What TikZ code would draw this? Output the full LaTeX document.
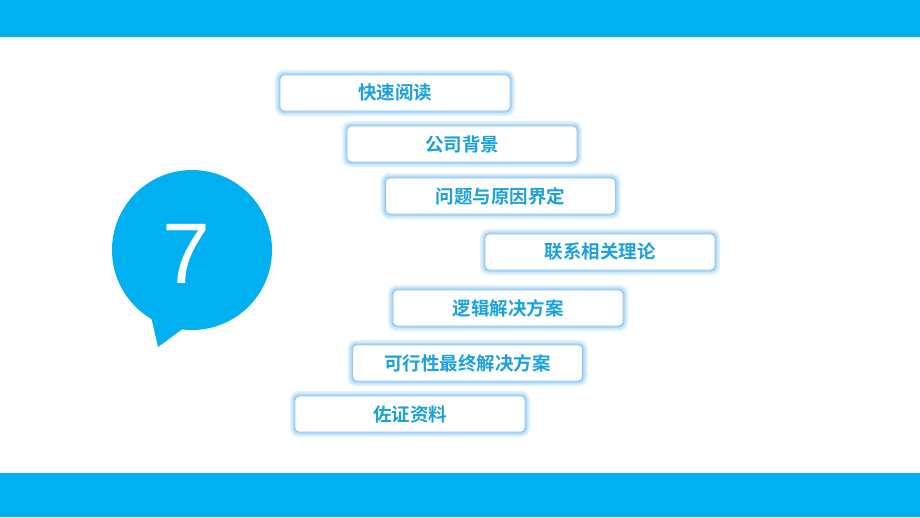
\documentclass[tikz,border=0pt]{standalone}
\usepackage{fontspec}
\newfontfamily\cjk{Noto Sans CJK SC}[BoldFont={Noto Sans CJK SC Bold}]
\newfontfamily\numfont{Liberation Sans}
\definecolor{mainblue}{HTML}{00B0F0}
\definecolor{txtblue}{HTML}{1BA1DC}
\definecolor{edgeblue}{HTML}{8EC5EC}
\definecolor{glowblue}{HTML}{9FD3FA}
\tikzset{
  stepbox/.style={draw=edgeblue, line width=0.9pt, fill=white, rounded corners=4pt,
    minimum width=230pt, minimum height=36pt, inner sep=0pt,
    font=\cjk\bfseries\fontsize{18.5}{20}\selectfont, text=txtblue,
    preaction={draw=glowblue, line width=10pt, draw opacity=0.3},
    preaction={draw=glowblue, line width=6.5pt, draw opacity=0.4},
    preaction={draw=glowblue, line width=3.5pt, draw opacity=0.7}},
}
\begin{document}
\begin{tikzpicture}[x=1pt,y=-1pt]
\useasboundingbox (0,0) rectangle (920,517);
\fill[white] (0,0) rectangle (920,517);
\fill[mainblue] (0,0) rectangle (920,37);
\fill[mainblue] (0,473) rectangle (920,517);
% speech bubble
\fill[mainblue] (192,250) circle (80);
\fill[mainblue] (150,312) -- (158,347) -- (192,322) -- cycle;
\node[font=\numfont\fontsize{86}{90}\selectfont, text=white] (seven) at (186,254) {7};
% boxes
\node[stepbox] (b1) at (395,93) {快速阅读};
\node[stepbox] (b2) at (462,144) {公司背景};
\node[stepbox] (b3) at (500.5,196) {问题与原因界定};
\node[stepbox] (b4) at (600,252) {联系相关理论};
\node[stepbox] (b5) at (508,308) {逻辑解决方案};
\node[stepbox] (b6) at (467.5,363) {可行性最终解决方案};
\node[stepbox] (b7) at (410,414) {佐证资料};
\end{tikzpicture}
\end{document}
